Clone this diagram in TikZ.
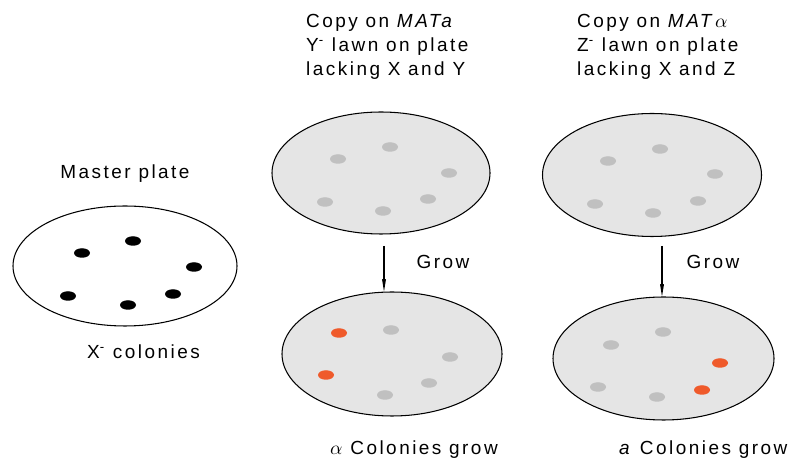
\documentclass[tikz,border=0pt]{standalone}
\usepackage{fontspec}
\setmainfont{Liberation Sans}[LetterSpace=13]
\usetikzlibrary{shapes.geometric,arrows.meta}
\definecolor{lawn}{HTML}{E5E5E5}
\definecolor{greydot}{HTML}{C0C0C0}
\definecolor{redorange}{HTML}{EF5A2B}
\begin{document}
\begin{tikzpicture}[>={Stealth[length=4mm,width=1.3mm,inset=2mm]},
  every node/.style={font=\fontsize{10.8}{13.5}\selectfont},
  plate/.style={draw,ellipse,line width=0.6pt,inner sep=0pt},
  lawnplate/.style={plate,fill=lawn}]
\useasboundingbox (0,0) rectangle (16.08,-9.28);
% plates
\node[plate,minimum width=4.48cm,minimum height=2.4cm] (master) at (2.5,-5.32) {};
\node[lawnplate,minimum width=4.36cm,minimum height=2.44cm] (topa) at (7.62,-3.46) {};
\node[lawnplate,minimum width=4.38cm,minimum height=2.46cm] (topb) at (13.04,-3.5) {};
\node[lawnplate,minimum width=4.4cm,minimum height=2.48cm] (bota) at (7.84,-7.08) {};
\node[lawnplate,minimum width=4.42cm,minimum height=2.46cm] (botb) at (13.27,-7.17) {};
% colonies
\foreach \p in {(1.64,-5.06),(2.66,-4.82),(3.88,-5.34),(1.36,-5.92),(2.56,-6.1),(3.46,-5.88)}
  \fill \p ellipse (0.16 and 0.095);
\foreach \p in {(6.76,-3.18),(7.8,-2.94),(8.98,-3.46),(6.5,-4.04),(8.56,-3.98),(7.66,-4.22),
  (13.2,-2.98),(12.16,-3.22),(14.3,-3.48),(11.9,-4.08),(13.96,-4.02),(13.06,-4.26),
  (7.82,-6.6),(9.0,-7.14),(8.58,-7.66),(7.7,-7.9),
  (13.26,-6.64),(12.22,-6.9),(11.96,-7.74),(13.14,-7.94)}
  \fill[greydot] \p ellipse (0.16 and 0.095);
\foreach \p in {(6.78,-6.66),(6.52,-7.5),(14.4,-7.26),(14.04,-7.8)}
  \fill[redorange] \p ellipse (0.16 and 0.095);
% labels
\node (mlabel) at (2.5,-3.48) {Master plate};
\node (xlabel) at (2.87,-7.04) {X\textsuperscript{-} colonies};
\node[anchor=west,align=left] (copya) at (6.0,-0.94) {Copy on \textit{MATa}\\Y\textsuperscript{-} lawn on plate\\lacking X and Y};
\node[anchor=west,align=left] (copyb) at (11.42,-0.94) {Copy on \textit{MAT}$\alpha$\\Z\textsuperscript{-} lawn on plate\\lacking X and Z};
\node (growa) at (8.86,-5.24) {Grow};
\node (growb) at (14.26,-5.24) {Grow};
\node (resa) at (8.28,-9.0) {$\alpha$ Colonies grow};
\node[anchor=west] (resb) at (12.26,-9.0) {\textit{a} Colonies grow};
% arrows
\coordinate (sa) at (7.68,-4.92);
\coordinate (sb) at (13.24,-4.92);
\draw[->,line width=0.7pt] (sa) -- (sa |- bota.north);
\draw[->,line width=0.7pt] (sb) -- (sb |- botb.north);
\end{tikzpicture}
\end{document}
